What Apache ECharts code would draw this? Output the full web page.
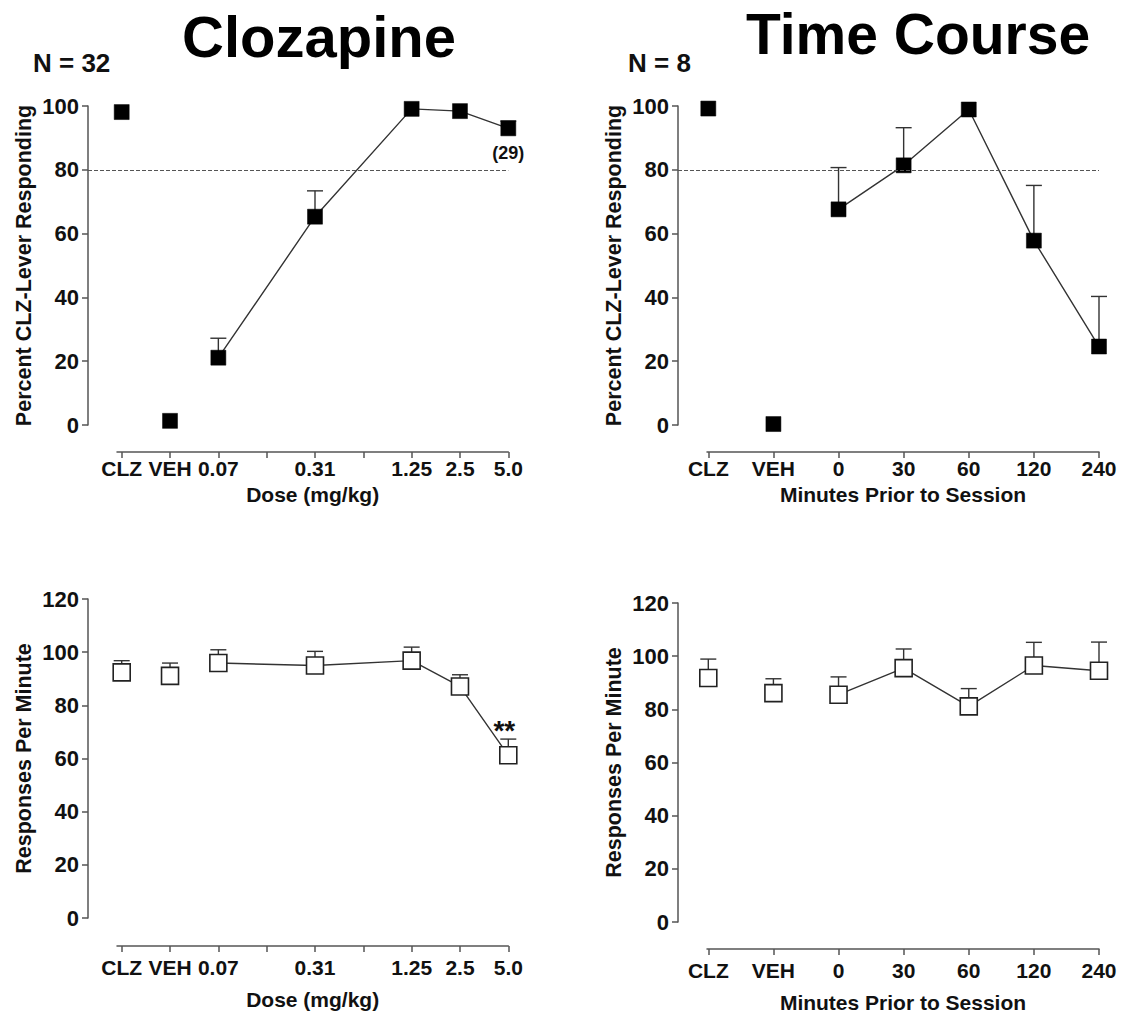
<!DOCTYPE html>
<html>
<head>
<meta charset="utf-8">
<script src="https://cdn.jsdelivr.net/npm/echarts@6/dist/echarts.min.js"></script>
<style>
  html, body { margin: 0; padding: 0; background: #fff; }
  #show { width: 1124px; height: 1023px; }
</style>
</head>
<body>
<div id="show"></div>
<script>
var myChart = echarts.init(document.getElementById("show"), null, { renderer: 'svg' });

// tick labels
var doseTicks = ['CLZ', 'VEH', '0.07', '', '0.31', '', '1.25', '2.5', '5.0'];
var timeTicks = ['CLZ', 'VEH', '0', '30', '60', '120', '240'];

// where each point sits on the x axis (tick index); first two are CLZ / VEH controls
var doseX = [0, 1, 2, 4, 6, 7, 8];
var timeX = [0, 1, 2, 3, 4, 5, 6];

// Clozapine dose-response
var clzPct = [98.1, 1.3, 21.1, 65.3, 99.1, 98.4, 93.0];
var clzPctHi = [null, null, 27.2, 73.4, null, null, 95.3];
var clzRate = [92.4, 91.1, 95.9, 95.0, 96.8, 87.1, 61.2];
var clzRateHi = [96.8, 95.9, 100.9, 100.3, 101.9, 91.5, 67.3];

// Time course
var timePct = [99.2, 0.3, 67.6, 81.4, 98.9, 57.8, 24.6];
var timePctHi = [null, null, 80.7, 93.2, null, 75.1, 40.3];
var timeRate = [91.8, 86.1, 85.5, 95.5, 81.1, 96.5, 94.5];
var timeRateHi = [98.9, 91.5, 92.2, 102.7, 87.8, 105.2, 105.3];

var FONT = '"Liberation Sans", Arial, Helvetica, sans-serif';
var INK = '#111';
var AXIS = '#555';

var grids = [], xAxes = [], yAxes = [], series = [];

function errorBars(xs, hi) {
    var d = [];
    for (var i = 0; i < xs.length; i++) {
        if (hi[i] != null) d.push([xs[i], hi[i]]);
    }
    return d;
}

// one panel = a data grid (y axis, points, 80% line) and a second grid for the detached x axis
function panel(p) {
    var gi = grids.length;
    var step = (p.lastTick - p.firstTick) / p.maxTick;
    var right = 1124 - p.lastTick;

    grids.push({ left: p.yAxisX, right: right, top: p.top, height: p.height, containLabel: false });
    grids.push({ left: p.xStart, right: right, top: p.top, height: p.height, containLabel: false });

    xAxes.push({
        gridIndex: gi, type: 'value', show: false,
        min: -(p.firstTick - p.yAxisX) / step, max: p.maxTick
    });
    var tickVals = [], labelVals = [];
    for (var i = 0; i <= p.maxTick; i++) {
        tickVals.push(i);
        if (p.ticks[i] !== '') labelVals.push(i);
    }
    xAxes.push({
        gridIndex: gi + 1, type: 'value', position: 'bottom',
        min: -(p.firstTick - p.xStart) / step, max: p.maxTick,
        offset: p.xOffset,
        name: p.xName, nameLocation: 'middle', nameGap: p.nameGap,
        nameTextStyle: { fontFamily: FONT, fontWeight: 'bold', fontSize: 21, color: INK },
        axisLine: { show: true, onZero: false, lineStyle: { color: AXIS, width: 1.5 } },
        axisTick: { show: true, length: 6, customValues: tickVals, lineStyle: { color: AXIS, width: 1.5 } },
        axisLabel: {
            customValues: labelVals, margin: p.labelMargin,
            fontFamily: FONT, fontWeight: 'bold', fontSize: 21, color: INK,
            formatter: function (v) { return p.ticks[Math.round(v)]; }
        },
        splitLine: { show: false }
    });

    yAxes.push({
        gridIndex: gi, type: 'value', min: 0, max: p.yMax, interval: 20, position: 'left',
        name: p.yName, nameLocation: 'middle', nameGap: 53,
        nameTextStyle: { fontFamily: FONT, fontWeight: 'bold', fontSize: 21.5, color: INK },
        axisLine: { show: true, onZero: false, lineStyle: { color: AXIS, width: 1.5 } },
        axisTick: { show: true, length: 6, lineStyle: { color: AXIS, width: 1.5 } },
        axisLabel: { margin: 9, fontFamily: FONT, fontWeight: 'bold', fontSize: 22, color: INK },
        splitLine: { show: false }
    });
    yAxes.push({ gridIndex: gi + 1, type: 'value', min: 0, max: p.yMax, show: false });

    var filled = p.filled;
    var sym = {
        symbol: 'rect',
        symbolSize: filled ? 15 : 17,
        itemStyle: filled ? { color: '#000', borderColor: '#000', borderWidth: 0.5, opacity: 1 }
                          : { color: '#fff', borderColor: '#222', borderWidth: 1.6, opacity: 1 }
    };

    // error bars (upper only)
    series.push({
        type: 'custom', xAxisIndex: gi, yAxisIndex: gi, z: 2, silent: true,
        data: errorBars(p.xs, p.hi),
        renderItem: function (params, api) {
            var x = api.value(0), hi = api.value(1);
            var idx = p.xs.indexOf(x);
            var p0 = api.coord([x, p.ys[idx]]);
            var p1 = api.coord([x, hi]);
            var st = { stroke: '#333', lineWidth: 1.4 };
            return {
                type: 'group', children: [
                    { type: 'line', shape: { x1: p0[0], y1: p0[1], x2: p1[0], y2: p1[1] }, style: st },
                    { type: 'line', shape: { x1: p1[0] - 8, y1: p1[1], x2: p1[0] + 8, y2: p1[1] }, style: st }
                ]
            };
        }
    });

    // CLZ and VEH control points
    series.push(Object.assign({
        type: 'scatter', xAxisIndex: gi, yAxisIndex: gi, z: 5, silent: true,
        data: [[p.xs[0], p.ys[0]], [p.xs[1], p.ys[1]]]
    }, sym));

    // dose / time curve
    var curve = [];
    for (var j = 2; j < p.xs.length; j++) {
        var item = { value: [p.xs[j], p.ys[j]] };
        if (p.note && p.note.index === j) {
            item.label = {
                show: true, formatter: p.note.text, position: p.note.position,
                distance: p.note.distance, offset: p.note.offset, fontFamily: FONT, fontWeight: 'bold',
                fontSize: p.note.size, color: INK
            };
        }
        curve.push(item);
    }
    var line = Object.assign({
        type: 'line', xAxisIndex: gi, yAxisIndex: gi, z: 4, silent: true,
        showAllSymbol: true, animation: false,
        lineStyle: { color: '#333', width: 1.4 },
        data: curve
    }, sym);
    if (p.refLine) {
        line.markLine = {
            silent: true, symbol: 'none', label: { show: false },
            lineStyle: { color: '#555', type: [4, 2], width: 1 },
            data: [{ yAxis: p.refLine }]
        };
    }
    series.push(line);
}

panel({
    yAxisX: 88, xStart: 117, firstTick: 121.7, lastTick: 508.3, maxTick: 8,
    top: 106, height: 319, xOffset: 27, yMax: 100, labelMargin: 6, nameGap: 32,
    ticks: doseTicks, xs: doseX, ys: clzPct, hi: clzPctHi, filled: true, refLine: 80,
    xName: 'Dose (mg/kg)', yName: 'Percent CLZ-Lever Responding',
    note: { index: 6, text: '(29)', position: 'bottom', distance: 8, size: 18, offset: [0, 0] }
});
panel({
    yAxisX: 678, xStart: 707, firstTick: 708.3, lastTick: 1099, maxTick: 6,
    top: 106, height: 319, xOffset: 27, yMax: 100, labelMargin: 6, nameGap: 32,
    ticks: timeTicks, xs: timeX, ys: timePct, hi: timePctHi, filled: true, refLine: 80,
    xName: 'Minutes Prior to Session', yName: 'Percent CLZ-Lever Responding'
});
panel({
    yAxisX: 88, xStart: 117, firstTick: 121.7, lastTick: 508.3, maxTick: 8,
    top: 599, height: 319, xOffset: 28, yMax: 120, labelMargin: 11, nameGap: 43,
    ticks: doseTicks, xs: doseX, ys: clzRate, hi: clzRateHi, filled: false,
    xName: 'Dose (mg/kg)', yName: 'Responses Per Minute',
    note: { index: 6, text: '**', position: 'top', distance: 2, size: 28, offset: [-4, 0] }
});
panel({
    yAxisX: 678, xStart: 707, firstTick: 708.3, lastTick: 1099, maxTick: 6,
    top: 603, height: 319, xOffset: 27, yMax: 120, labelMargin: 11, nameGap: 43,
    ticks: timeTicks, xs: timeX, ys: timeRate, hi: timeRateHi, filled: false,
    xName: 'Minutes Prior to Session', yName: 'Responses Per Minute'
});

myChart.setOption({
    animation: false,
    backgroundColor: '#fff',
    grid: grids,
    xAxis: xAxes,
    yAxis: yAxes,
    series: series,
    graphic: [
        { type: 'text', x: 319, y: 36, style: { text: 'Clozapine', font: 'bold 58px ' + FONT, fill: '#000', textAlign: 'center', textVerticalAlign: 'middle' } },
        { type: 'text', x: 918, y: 34, style: { text: 'Time Course', font: 'bold 57px ' + FONT, fill: '#000', textAlign: 'center', textVerticalAlign: 'middle' } },
        { type: 'text', left: 33, top: 50, style: { text: 'N = 32', font: 'bold 26px ' + FONT, fill: INK } },
        { type: 'text', left: 628, top: 50, style: { text: 'N = 8', font: 'bold 26px ' + FONT, fill: INK } }
    ]
});
</script>
</body>
</html>
